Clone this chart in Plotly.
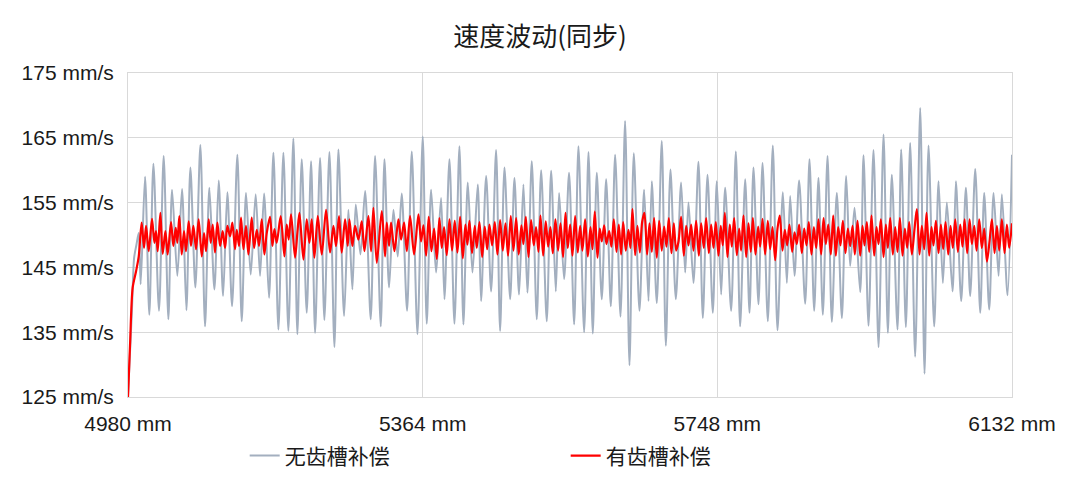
import plotly.graph_objects as go

title_text = "速度波动(同步)"
name_gray = "无齿槽补偿"
name_red = "有齿槽补偿"
x_ticks = [4980, 5364, 5748, 6132]
x_tick_labels = ["4980 mm", "5364 mm", "5748 mm", "6132 mm"]
y_ticks = [125, 135, 145, 155, 165, 175]
y_tick_labels = ["125 mm/s", "135 mm/s", "145 mm/s", "155 mm/s", "165 mm/s", "175 mm/s"]

# 无齿槽补偿 (gray) — read extrema: position (mm), speed (mm/s)
gray_x = [4980, 4985, 4988, 4991, 4994, 4996.5,
    5002.2, 5007.8, 5013.1, 5020.4, 5026.5, 5032.6, 5037.4, 5044.3, 5050.4, 5056.1,
    5061.3, 5067.8, 5074.3, 5080.4, 5086.0, 5092.6, 5098.2, 5103.9, 5109.5, 5115.6,
    5122.5, 5128.2, 5133.8, 5139.9, 5146.4, 5152.1, 5157.3, 5163.8,
    5169.5, 5176.0, 5182.5, 5189.0, 5195.5, 5200.7, 5206.4, 5212.9, 5218.6, 5223.8,
    5230.3, 5235.9, 5242.5, 5249.0, 5254.2, 5261.6, 5267.2, 5272.4, 5276.8, 5282.9,
    5289.0, 5296.3, 5302.0, 5309.4, 5314.2, 5320.2, 5325.9, 5331.5, 5336.7, 5343.7,
    5349.8, 5357.2, 5364.1, 5369.3, 5375.0, 5381.5, 5388.0, 5392.4, 5398.9, 5405.4,
    5411.9, 5417.1, 5422.8, 5428.9, 5435.8, 5440.1, 5446.7, 5453.2, 5459.7, 5464.9,
    5470.6, 5478.0, 5483.6, 5489.6, 5495.3, 5500.5, 5506.2, 5512.7, 5518.4, 5525.7,
    5531.4, 5537.5, 5541.8, 5548.3, 5554.8, 5561.4, 5567.0, 5574.4, 5580.1, 5585.7,
    5590.9, 5597.4, 5603.1, 5609.2, 5614.8, 5621.8, 5627.8, 5633.5, 5639.1, 5646.5,
    5652.6, 5658.3, 5662.6, 5669.1, 5675.6, 5680.9, 5686.9, 5693.9, 5700.8, 5706.1,
    5710.4, 5716.9, 5723.4, 5729.1, 5735.2, 5742.1, 5747.3, 5753.0, 5758.2, 5766.0,
    5772.1, 5777.7, 5784.3, 5789.9, 5795.1, 5801.6, 5806.9, 5813.8, 5820.3, 5826.4,
    5833.4, 5838.6, 5842.9, 5848.6, 5854.6, 5862.5, 5868.1, 5874.2, 5879.8, 5885.5,
    5891.6, 5897.2, 5903.7, 5910.3, 5915.9, 5921.1, 5926.8, 5934.2, 5938.5, 5945.0,
    5951.5, 5958.1, 5964.6, 5970.2, 5975.4, 5982.8, 5987.6, 5993.7, 5999.3, 6005.8,
    6012.4, 6018.0, 6023.2, 6030.6, 6036.3, 6041.9, 6047.1, 6054.5, 6058.9, 6065.8,
    6071.9, 6077.5, 6084.1, 6090.6, 6095.8, 6102.3, 6108.0, 6114.5, 6118.8, 6126.2,
    6132.0]
gray_y = [125.2, 138.0, 146.5, 148.5, 150.3, 142.4,
    159.0, 137.7, 161.0, 138.3, 162.2, 137.0, 157.0, 143.7, 157.1, 138.4,
    160.4, 141.9, 163.9, 135.9, 157.3, 141.6, 158.4, 140.6, 156.6, 139.0,
    162.4, 136.7, 156.5, 143.9, 156.3, 143.7, 156.4, 140.3,
    162.7, 135.4, 162.7, 135.2, 164.9, 134.7, 161.7, 138.0, 161.4, 134.9,
    161.9, 136.9, 162.8, 132.7, 163.2, 137.5, 153.9, 141.6, 154.7, 147.0,
    156.8, 137.0, 162.2, 135.9, 161.7, 141.9, 153.9, 146.7, 156.4, 138.3,
    162.9, 134.7, 165.2, 136.3, 157.0, 144.2, 155.7, 140.1, 161.7, 136.3,
    163.7, 136.2, 158.1, 144.2, 157.8, 139.8, 159.1, 141.3, 163.1, 135.2,
    160.4, 140.1, 158.8, 140.8, 157.8, 141.1, 161.4, 137.0, 160.0, 136.7,
    159.9, 141.3, 156.5, 143.2, 159.6, 136.2, 163.7, 135.0, 162.8, 134.8,
    159.6, 140.1, 158.6, 139.0, 162.4, 137.4, 167.6, 129.9, 162.6, 138.3,
    157.0, 139.8, 158.3, 139.5, 164.5, 132.9, 160.1, 140.1, 158.1, 144.2,
    155.0, 142.6, 161.3, 137.2, 159.3, 138.0, 158.3, 140.8, 157.3, 138.3,
    162.9, 135.9, 158.6, 138.0, 160.4, 139.3, 161.1, 136.7, 163.8, 135.3,
    156.6, 142.6, 156.0, 143.7, 158.4, 139.4, 161.7, 138.3, 158.8, 137.7,
    162.2, 136.6, 156.5, 137.2, 159.1, 145.2, 154.2, 141.2, 162.3, 136.0,
    163.1, 132.7, 165.5, 134.9, 159.3, 135.4, 163.2, 135.8, 164.2, 131.2,
    169.6, 128.6, 163.8, 135.9, 158.3, 142.6, 155.0, 141.3, 158.3, 139.8,
    157.3, 140.6, 160.2, 138.0, 156.5, 138.5, 156.5, 143.7, 156.3, 140.7,
    162.4]

# 有齿槽补偿 (red)
red_x = [4980, 4982.6, 4986.1, 4990.5, 4994.0, 4997.8, 5000.9, 5003.5, 5007.0, 5011.3,
    5014.4, 5016.5, 5018.7, 5022.2, 5025.2, 5028.7, 5031.7, 5036.1, 5039.1, 5042.2,
    5044.3, 5046.9, 5050.0, 5053.0, 5055.6, 5059.1, 5062.1, 5065.2, 5068.7, 5072.1,
    5076.1, 5079.1, 5081.7, 5085.2, 5087.8, 5090.4, 5093.4, 5096.5, 5100.0, 5103.4,
    5106.5, 5109.5, 5113.0, 5116.0, 5119.5, 5121.7, 5124.7, 5127.3, 5130.4, 5133.8,
    5136.9, 5141.2, 5144.3, 5147.8, 5150.8, 5154.3, 5157.7, 5160.8,
    5165.1, 5168.2, 5170.8, 5173.8, 5179.0, 5183.8, 5186.8, 5189.4, 5192.5, 5197.7,
    5200.7, 5203.4, 5208.6, 5212.9, 5216.4, 5219.4, 5222.9, 5227.3, 5232.5, 5238.1,
    5243.3, 5247.7, 5251.1, 5255.0, 5258.5, 5262.9, 5266.4, 5268.5, 5272.4, 5275.9,
    5280.3, 5284.6, 5288.1, 5293.3, 5296.8, 5299.8, 5304.2, 5310.7, 5315.0, 5317.2,
    5320.2, 5322.8, 5327.2, 5332.4, 5335.9, 5339.8, 5343.3, 5347.6,
    5352.8, 5358.5, 5361.9, 5365.0, 5368.5, 5371.9, 5375.4, 5378.9, 5382.4, 5385.8,
    5388.9, 5391.9, 5395.4, 5398.9, 5402.3, 5405.8, 5409.3, 5412.8, 5416.3, 5419.7,
    5422.3, 5424.9, 5428.4, 5431.9, 5434.5, 5438.0, 5441.5, 5444.9, 5448.0, 5451.0,
    5454.5, 5458.0, 5461.4, 5464.9, 5468.4, 5471.9, 5475.3, 5478.8, 5482.3, 5485.8,
    5489.2, 5492.7, 5495.3, 5498.4, 5501.9, 5505.3, 5508.8, 5511.8, 5514.9, 5517.5,
    5521.0, 5524.4, 5527.5, 5530.5, 5533.6, 5537.0, 5540.5,
    5543.6, 5547.0, 5550.1, 5553.1, 5556.2, 5559.2, 5562.7, 5566.1, 5569.2, 5572.2,
    5575.7, 5579.2, 5582.7, 5585.3, 5588.3, 5591.8, 5594.8, 5597.4, 5600.5, 5603.5,
    5607.0, 5610.0, 5613.1, 5616.6, 5619.6, 5622.6, 5625.3, 5628.7, 5632.2, 5634.8,
    5637.4, 5640.9, 5643.9, 5647.0, 5650.0, 5653.0, 5656.5, 5659.6, 5662.6, 5665.6,
    5669.1, 5672.2, 5675.6, 5678.7, 5681.7, 5684.8, 5688.2, 5691.3, 5694.3, 5697.4,
    5700.8, 5704.3, 5707.4, 5710.4, 5713.9, 5716.9, 5720.4, 5723.9, 5726.9, 5730.4,
    5733.4, 5736.9, 5739.9, 5743.0, 5746.0, 5749.5, 5752.5, 5755.1, 5757.8, 5761.2,
    5764.3, 5766.9, 5769.9, 5773.4, 5776.4, 5779.0, 5782.1, 5785.6, 5788.6, 5791.6,
    5794.3, 5797.7, 5801.2, 5803.8, 5806.9, 5810.3, 5813.8, 5816.8, 5819.9, 5823.4,
    5826.4, 5829.4, 5832.9, 5836.0, 5839.0, 5842.0, 5845.5, 5848.6, 5851.6, 5854.6,
    5858.1, 5861.2, 5864.2, 5867.2, 5870.7, 5873.8, 5876.8, 5879.8, 5883.3, 5886.4,
    5889.4, 5892.5, 5895.9, 5899.0, 5902.4, 5905.5, 5908.5, 5911.6, 5915.0, 5918.1,
    5921.1, 5924.2, 5927.2, 5930.7, 5934.2, 5937.2, 5939.8, 5942.8, 5945.9, 5948.9,
    5952.4, 5955.4, 5958.1, 5961.1, 5964.6, 5967.6, 5970.2, 5973.3, 5976.7, 5979.8,
    5982.8, 5985.9, 5989.3, 5992.4, 5995.4, 5998.0, 6001.5, 6005.0, 6008.0, 6011.5,
    6014.5, 6017.6, 6020.6, 6024.1, 6027.1, 6029.7, 6032.8, 6036.3, 6039.3, 6042.3,
    6045.4, 6048.9, 6051.9, 6054.9, 6058.0, 6061.5, 6064.5, 6067.5, 6070.2, 6073.6,
    6076.7, 6079.7, 6082.8, 6085.8, 6089.3, 6092.7, 6095.8, 6099.3, 6102.7, 6105.8,
    6109.3, 6112.3, 6115.3, 6118.8, 6122.3, 6125.3, 6128.4, 6132.0]
red_y = [125.0, 132.9, 141.9, 144.4, 146.7, 151.9, 148.0, 151.4, 147.5, 152.5,
    148.8, 150.6, 147.5, 153.4, 147.1, 150.6, 147.0, 152.0, 148.3, 151.1,
    148.8, 152.9, 147.0, 150.6, 147.5, 152.1, 148.3, 151.4, 147.8, 152.4,
    146.7, 150.3, 147.5, 152.4, 148.8, 151.6, 147.3, 151.9, 148.3, 150.6,
    148.0, 151.4, 149.8, 151.9, 147.8, 150.8, 148.3, 152.7, 147.8, 151.4,
    147.0, 152.7, 148.0, 150.8, 148.3, 152.4, 147.0, 150.3,
    152.8, 148.3, 150.9, 148.8, 152.9, 146.7, 151.6, 149.3, 153.2, 146.5,
    150.3, 153.4, 146.2, 152.4, 148.8, 152.4, 146.5, 152.9, 147.0, 153.9,
    147.3, 151.4, 148.3, 152.9, 147.3, 152.4, 148.3, 152.4, 148.3, 151.4,
    149.3, 152.1, 147.5, 152.9, 147.5, 154.2, 145.7, 153.7, 146.7, 151.9,
    148.3, 151.9, 147.5, 152.4, 149.3, 151.9, 147.5, 152.9,
    147.0, 153.2, 149.0, 151.5, 146.8, 152.8, 147.5, 151.0, 146.3, 152.6,
    148.0, 151.2, 146.9, 152.4, 147.6, 152.2, 147.3, 152.8, 146.4, 151.6,
    148.5, 152.2, 147.2, 151.4, 148.0, 152.0, 146.6, 151.3, 147.8, 151.6,
    148.4, 152.0, 147.0, 152.3, 147.6, 151.8, 146.8, 152.9, 147.6, 152.6,
    147.0, 151.5, 148.6, 152.8, 146.6, 152.3, 148.4, 151.2, 147.4, 153.0,
    146.8, 152.1, 148.2, 151.2, 147.2, 152.4, 147.6,
    151.8, 146.6, 153.4, 148.0, 151.6, 146.8, 152.9, 147.3, 151.4, 147.6,
    152.4, 146.7, 151.2, 147.8, 153.6, 146.5, 151.0, 149.0, 151.5, 148.6,
    150.6, 148.2, 152.4, 147.4, 151.6, 147.0, 152.0, 147.6, 150.8, 148.0,
    154.0, 146.9, 151.4, 147.3, 152.0, 153.4, 147.0, 151.8, 147.4, 152.6,
    146.5, 152.2, 147.6, 151.3, 148.2, 152.6, 147.2, 151.8, 147.6, 149.0,
    152.8, 146.8, 151.4, 148.4, 151.6, 147.6, 152.2, 146.8, 151.8, 148.0,
    152.6, 147.2, 151.6, 148.0, 152.0, 146.8, 151.4, 148.4, 153.4, 146.6,
    151.6, 148.2, 152.6, 146.9, 151.0, 147.6, 153.0, 146.6, 151.8, 147.4,
    152.6, 147.0, 151.3, 148.2, 152.5, 147.0, 152.2, 147.8, 151.2, 146.1,
    151.0, 153.0, 147.6, 150.8, 148.4, 151.6, 147.4, 150.4, 148.6, 151.6,
    147.2, 151.0, 148.4, 152.0, 147.0, 151.2, 148.0, 152.4, 147.0, 152.6,
    148.6, 151.6, 147.0, 153.0, 146.8, 151.2, 148.4, 152.2, 147.2, 151.0,
    148.3, 151.4, 147.0, 152.2, 146.8, 151.4, 148.4, 152.0, 147.4, 153.0,
    146.8, 151.2, 148.6, 152.4, 146.6, 151.6, 148.0, 152.6, 147.0, 151.2,
    147.4, 152.6, 146.8, 151.0, 148.0, 152.0, 147.0, 151.0, 154.0, 147.0,
    151.4, 147.8, 153.4, 146.8, 151.2, 148.4, 152.2, 147.2, 151.6, 147.8,
    152.0, 147.0, 151.4, 148.0, 152.4, 147.4, 151.6, 148.2, 152.4, 147.2,
    152.4, 148.6, 151.4, 147.6, 152.4, 148.0, 151.0, 145.9, 149.0, 152.4,
    147.2, 151.4, 147.6, 152.4, 147.2, 151.6, 148.0, 151.8]

GRAY = "#A3AFBF"
RED = "#FF0000"
FONT = "Liberation Sans, Arial, Noto Sans CJK SC, sans-serif"
CJK = "Noto Sans CJK SC, sans-serif"

fig = go.Figure()
fig.add_trace(go.Scatter(x=gray_x, y=gray_y, mode="lines", name=name_gray,
                         line=dict(color=GRAY, width=2, shape="spline", smoothing=0.8)))
fig.add_trace(go.Scatter(x=red_x, y=red_y, mode="lines", name=name_red,
                         line=dict(color=RED, width=2.2, shape="spline", smoothing=0.8)))

fig.update_layout(
    width=1080, height=491,
    margin=dict(l=128, r=68, t=73, b=94),
    paper_bgcolor="white", plot_bgcolor="white",
    font=dict(family=FONT, size=21, color="#1a1a1a"),
    title=dict(text=title_text, x=0.5, xanchor="center", y=0.925, yanchor="middle",
               font=dict(family=CJK, size=26, color="#1a1a1a")),
    showlegend=True,
    legend=dict(orientation="h", x=0.132, xanchor="left", y=-0.182, yanchor="middle",
                entrywidth=276, entrywidthmode="pixels", itemwidth=30,
                font=dict(family=CJK, size=21, color="#1a1a1a")),
)
fig.update_xaxes(range=[4980, 6132], tickmode="array", tickvals=x_ticks, ticktext=x_tick_labels,
                 showgrid=True, gridcolor="#D9D9D9", gridwidth=1, zeroline=False,
                 showline=True, mirror=True, linecolor="#D9D9D9", linewidth=1,
                 ticks="", ticklabelstandoff=8)
fig.update_yaxes(range=[125, 175], tickmode="array", tickvals=y_ticks, ticktext=y_tick_labels,
                 showgrid=True, gridcolor="#D9D9D9", gridwidth=1, zeroline=False,
                 showline=True, mirror=True, linecolor="#D9D9D9", linewidth=1,
                 ticks="", ticklabelstandoff=9)

fig.write_html("out.html", config={"displayModeBar": False},
               post_script="document.body.style.margin='0';")
